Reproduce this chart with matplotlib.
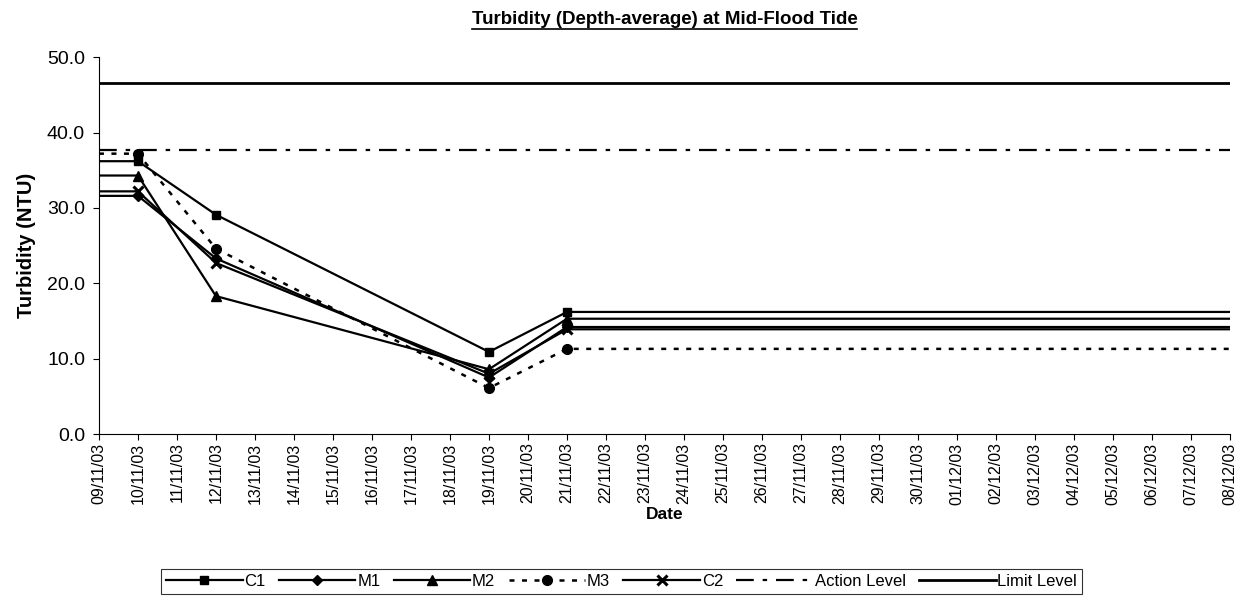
import pandas as pd
import matplotlib
matplotlib.use("Agg")
import matplotlib.pyplot as plt
import matplotlib.dates as mdates

plt.rcParams['font.family'] = ['Liberation Sans', 'DejaVu Sans']

# sampling dates (first and last points only carry the line to the chart edges)
dates = pd.to_datetime(['2003-11-09', '2003-11-10', '2003-11-12',
                        '2003-11-19', '2003-11-21', '2003-12-08'])
c1 = [36.2, 36.2, 29.1, 10.9, 16.2, 16.2]
m1 = [31.6, 31.6, 23.3, 7.5, 14.2, 14.2]
m2 = [34.3, 34.3, 18.3, 8.6, 15.3, 15.3]
m3 = [37.2, 37.2, 24.6, 6.1, 11.3, 11.3]
c2 = [32.2, 32.2, 22.7, 8.0, 13.9, 13.9]
action_level = 37.7
limit_level = 46.6

start, end = pd.Timestamp('2003-11-09'), pd.Timestamp('2003-12-08')

fig = plt.figure(figsize=(12.43, 6.02), dpi=100)
ax = fig.add_axes([0.0796, 0.279, 0.91, 0.626])

marks = [1, 2, 3, 4]
ax.plot(dates, c1, color='black', lw=1.6, marker='s', ms=6, markevery=marks, label='C1')
ax.plot(dates, m1, color='black', lw=1.6, marker='D', ms=5, markevery=marks, label='M1')
ax.plot(dates, m2, color='black', lw=1.6, marker='^', ms=7, markevery=marks, label='M2')
ax.plot(dates, m3, color='black', lw=1.8, ls=(0, (2, 3)), marker='o', ms=7,
        markevery=marks, label='M3')
ax.plot(dates, c2, color='black', lw=1.6, marker='x', ms=7, mew=2.2, markevery=marks, label='C2')
ax.plot([start, end], [action_level, action_level], color='black', lw=1.6,
        ls=(0, (8, 4, 2, 4)), label='Action Level')
ax.plot([start, end], [limit_level, limit_level], color='black', lw=2.0, label='Limit Level')

ax.set_xlim(start, end)
ax.set_ylim(0, 50)
ax.set_yticks([0, 10, 20, 30, 40, 50])
ax.yaxis.set_major_formatter(plt.FormatStrFormatter('%.1f'))
ax.xaxis.set_major_locator(mdates.DayLocator())
ax.xaxis.set_major_formatter(mdates.DateFormatter('%d/%m/%y'))
plt.setp(ax.get_xticklabels(), rotation=90)
ax.tick_params(axis='y', labelsize=14, length=4, direction='out', pad=6)
ax.tick_params(axis='x', labelsize=11.5, length=4, direction='out', pad=2)
ax.spines['top'].set_visible(False)
ax.spines['right'].set_visible(False)

ax.set_title('Turbidity (Depth-average) at Mid-Flood Tide', fontsize=13.5,
             fontweight='bold', pad=24)
t = ax.title
ax.set_xlabel('Date', fontsize=12.5, fontweight='bold', labelpad=2)
ax.set_ylabel('Turbidity (NTU)', fontsize=14.5, fontweight='bold', labelpad=8)

# underline the title
fig.canvas.draw()
bb = t.get_window_extent().transformed(fig.transFigure.inverted())
fig.add_artist(plt.Line2D([bb.x0, bb.x1], [bb.y0 - 0.002, bb.y0 - 0.002],
                          color='black', lw=1.2, transform=fig.transFigure))

leg = fig.legend(loc='lower center', bbox_to_anchor=(0.5, 0.0), ncol=7, fontsize=12,
                 handlelength=4.6, handletextpad=0.1, columnspacing=0.8,
                 frameon=True, fancybox=False, edgecolor='black', borderpad=0.3)
leg.get_frame().set_linewidth(0.8)

fig.savefig('out.png', dpi=100)
